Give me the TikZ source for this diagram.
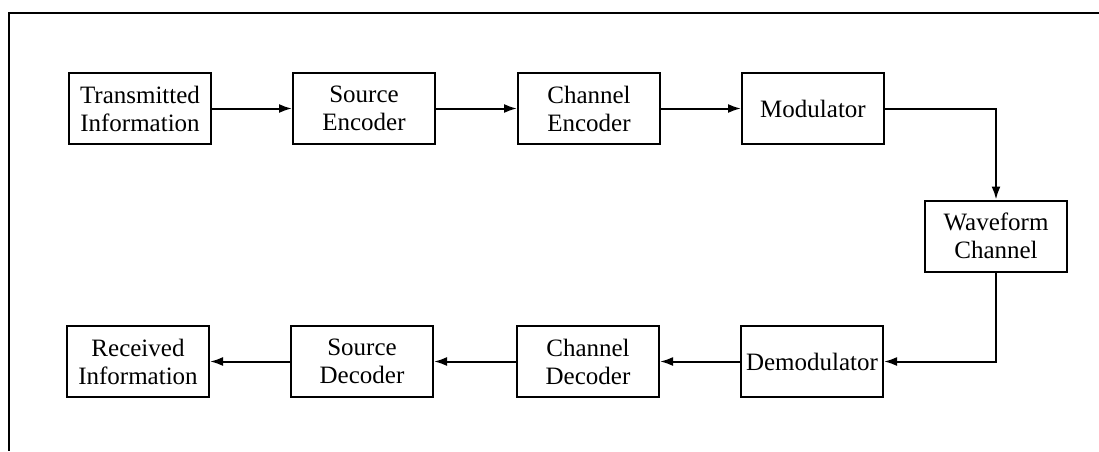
\documentclass[tikz,border=0pt]{standalone}
\usepackage{fontspec}
\setmainfont{Liberation Serif}
\usetikzlibrary{arrows.meta}
\begin{document}
\begin{tikzpicture}[x=1pt,y=-1pt,
  block/.style={draw,line width=2pt,minimum width=142pt,minimum height=71pt,
    inner sep=0pt,align=center,font=\fontsize{25}{28}\selectfont},
  flow/.style={line width=2pt,-{Latex[length=13pt,width=9pt]}},
  frameline/.style={line width=2pt}]
  \useasboundingbox (0,0) rectangle (1099,451);
  % partial frame: top and left edges
  \draw[frameline] (1099,13) -- (9,13) -- (9,451);

  % transmitter chain
  \node[block] (ti)  at (140,108.5) {Transmitted\\Information};
  \node[block] (se)  at (364,108.5) {Source\\Encoder};
  \node[block] (ce)  at (589,108.5) {Channel\\Encoder};
  \node[block] (mod) at (813,108.5) {Modulator};

  % channel
  \node[block] (wc)  at (996,236) {Waveform\\Channel};

  % receiver chain
  \node[block] (dem) at (812,361.5) {Demodulator};
  \node[block] (cd)  at (588,361.5) {Channel\\Decoder};
  \node[block] (sd)  at (362,361.5) {Source\\Decoder};
  \node[block] (ri)  at (138,361.5) {Received\\Information};

  \draw[flow] (ti) -- (se);
  \draw[flow] (se) -- (ce);
  \draw[flow] (ce) -- (mod);
  \draw[flow] (mod.east) -| (wc.north);
  \draw[flow] (wc.south) |- (dem.east);
  \draw[flow] (dem) -- (cd);
  \draw[flow] (cd) -- (sd);
  \draw[flow] (sd) -- (ri);
\end{tikzpicture}
\end{document}
